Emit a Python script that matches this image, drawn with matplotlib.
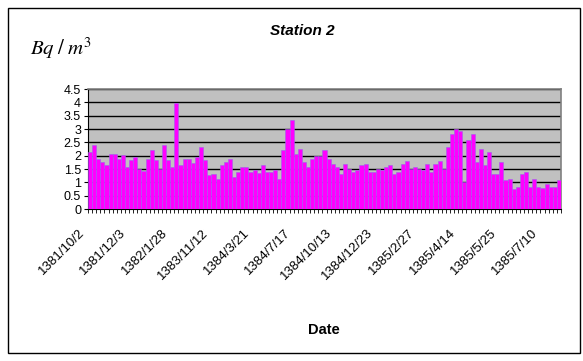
import matplotlib
matplotlib.use('Agg')
import matplotlib.pyplot as plt
import matplotlib.patches as mpatches
import matplotlib.transforms as mtransforms
import numpy as np

# Radon concentration per sample (Bq/m^3)
values = [2.12, 2.39, 1.89, 1.77, 1.66, 2.07, 2.07, 1.89, 2.02, 1.57,
          1.84, 1.96, 1.51, 1.42, 1.89, 2.21, 1.84, 1.51, 2.39, 1.84,
          1.57, 3.96, 1.64, 1.89, 1.89, 1.71, 1.96, 2.32, 1.82, 1.26,
          1.32, 1.14, 1.65, 1.76, 1.89, 1.20, 1.39, 1.57, 1.57, 1.39,
          1.46, 1.34, 1.65, 1.39, 1.39, 1.46, 1.14, 2.20, 3.01, 3.34,
          2.07, 2.26, 1.76, 1.57, 1.89, 2.00, 1.97, 2.20, 1.87, 1.70,
          1.57, 1.30, 1.70, 1.50, 1.37, 1.45, 1.65, 1.70, 1.37, 1.37,
          1.50, 1.45, 1.57, 1.65, 1.32, 1.37, 1.70, 1.81, 1.50, 1.57,
          1.50, 1.45, 1.70, 1.37, 1.70, 1.81, 1.50, 2.32, 2.82, 3.01,
          2.94, 1.00, 2.57, 2.83, 1.75, 2.26, 1.64, 2.13, 1.32, 1.32,
          1.75, 1.08, 1.13, 0.76, 0.82, 1.32, 1.37, 0.82, 1.13, 0.82,
          0.80, 0.95, 0.82, 0.82, 1.08]

# Only every 10th date is printed on the axis
tick_labels = ['1381/10/2', '1381/12/3', '1382/1/28', '1383/11/12',
               '1384/3/21', '1384/7/17', '1384/10/13', '1384/12/23',
               '1385/2/27', '1385/4/14', '1385/5/25', '1385/7/10']
label_step = 10
y_ticks = [0, 0.5, 1, 1.5, 2, 2.5, 3, 3.5, 4, 4.5]

plt.rcParams['font.family'] = ['Liberation Sans', 'DejaVu Sans']
plt.rcParams['mathtext.fontset'] = 'stix'

W, H = 583, 361
fig = plt.figure(figsize=(W / 100, H / 100), dpi=100)
ax = fig.add_axes([88 / W, 1 - 209 / H, (561 - 88) / W, 120 / H])

x = np.arange(len(values))
ax.bar(x, values, width=1.0, color='#FF00FF', edgecolor='#A060F0',
       linewidth=0.4, zorder=3)

ax.set_facecolor('#C0C0C0')
ax.set_xlim(-0.5, len(values) - 0.5)
ax.set_ylim(0, 4.5)
ax.set_yticks(y_ticks)
ax.set_yticklabels([f'{v:g}' for v in y_ticks], fontsize=9)
ax.yaxis.grid(True, color='black', linewidth=1)
ax.set_axisbelow(True)

# labels on every 10th bar, small ticks between all bars
ax.set_xticks(x[::label_step])
ax.set_xticklabels(tick_labels, rotation=45, ha='right', va='center',
                   rotation_mode='anchor', fontsize=9.5)
ax.set_xticks(np.arange(len(values) + 1) - 0.5, minor=True)
ax.tick_params(axis='x', which='major', length=0, pad=16)
ax.tick_params(axis='x', which='minor', length=3, direction='out')
ax.tick_params(axis='y', length=3, direction='out', pad=2)
shift = mtransforms.ScaledTranslation(-7 / 100, 0, fig.dpi_scale_trans)
for lbl in ax.get_xticklabels():
    lbl.set_transform(lbl.get_transform() + shift)

for side in ['top', 'right']:
    ax.spines[side].set_color('#808080')
    ax.spines[side].set_linewidth(1.2)
for side in ['left', 'bottom']:
    ax.spines[side].set_color('black')

fig.text(302 / W, 1 - 31 / H, 'Station 2', ha='center', va='center',
         fontsize=11, fontweight='bold', fontstyle='italic')
fig.text(30 / W, 1 - 48 / H, r'$Bq\;/\;m^3$', ha='left', va='center',
         fontsize=15)
fig.text(324 / W, 1 - 330 / H, 'Date', ha='center', va='center',
         fontsize=10.5, fontweight='bold')

# outer chart frame
fig.patches.append(mpatches.Rectangle((8 / W, 1 - 353 / H), (580 - 8) / W,
                                      (353 - 8) / H, transform=fig.transFigure,
                                      fill=False, edgecolor='black', linewidth=1))

fig.savefig('out.png', dpi=100)
